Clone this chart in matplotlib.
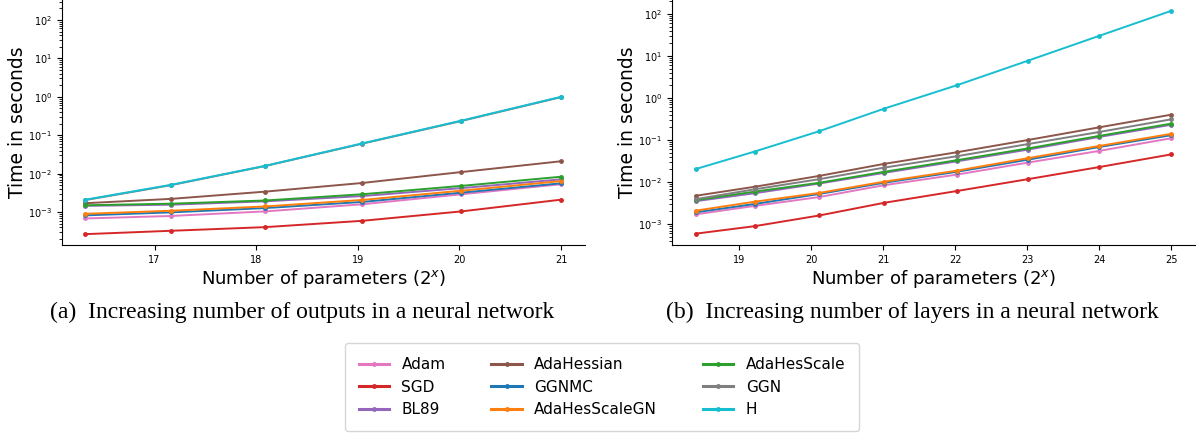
import matplotlib
matplotlib.use("Agg")
import matplotlib.pyplot as plt
import numpy as np

names = ["Adam", "SGD", "BL89", "AdaHessian", "GGNMC", "AdaHesScaleGN",
         "AdaHesScale", "GGN", "H"]
colors = ["tab:pink", "tab:red", "tab:purple", "tab:brown", "tab:blue",
          "tab:orange", "tab:green", "tab:gray", "tab:cyan"]

# (a) increasing number of outputs
x_out = [16.32, 17.16, 18.09, 19.04, 20.02, 21.0]
t_out = {
    "Adam":          [6.8e-4, 7.9e-4, 1.04e-3, 1.59e-3, 2.9e-3, 5.3e-3],
    "SGD":           [2.66e-4, 3.25e-4, 4.05e-4, 5.9e-4, 1.04e-3, 2.1e-3],
    "BL89":          [1.45e-3, 1.55e-3, 1.9e-3, 2.6e-3, 4.2e-3, 7.1e-3],
    "AdaHessian":    [1.7e-3, 2.2e-3, 3.4e-3, 5.7e-3, 1.1e-2, 2.1e-2],
    "GGNMC":         [8.2e-4, 9.8e-4, 1.27e-3, 1.83e-3, 3.2e-3, 5.6e-3],
    "AdaHesScaleGN": [9.0e-4, 1.08e-3, 1.4e-3, 2.06e-3, 3.6e-3, 6.4e-3],
    "AdaHesScale":   [1.5e-3, 1.65e-3, 2.0e-3, 2.9e-3, 4.8e-3, 8.3e-3],
    "GGN":           [2.05e-3, 5.0e-3, 1.58e-2, 6.0e-2, 0.235, 0.98],
    "H":             [2.1e-3, 5.1e-3, 1.6e-2, 6.1e-2, 0.24, 1.0],
}

# (b) increasing number of layers
x_lay = [18.39, 19.21, 20.11, 21.01, 22.02, 23.01, 24.0, 25.0]
t_lay = {
    "Adam":          [1.7e-3, 2.7e-3, 4.4e-3, 8.4e-3, 1.5e-2, 2.9e-2, 5.5e-2, 0.11],
    "SGD":           [5.9e-4, 8.9e-4, 1.6e-3, 3.2e-3, 6.1e-3, 1.17e-2, 2.27e-2, 4.54e-2],
    "BL89":          [3.5e-3, 5.4e-3, 9.2e-3, 1.65e-2, 3.1e-2, 5.9e-2, 0.118, 0.23],
    "AdaHessian":    [4.7e-3, 7.7e-3, 1.4e-2, 2.7e-2, 5.1e-2, 0.10, 0.20, 0.40],
    "GGNMC":         [1.9e-3, 3.0e-3, 5.2e-3, 9.6e-3, 1.75e-2, 3.4e-2, 6.8e-2, 0.13],
    "AdaHesScaleGN": [2.08e-3, 3.4e-3, 5.5e-3, 1.02e-2, 1.86e-2, 3.7e-2, 7.2e-2, 0.14],
    "AdaHesScale":   [3.7e-3, 5.9e-3, 9.6e-3, 1.75e-2, 3.3e-2, 6.3e-2, 0.125, 0.245],
    "GGN":           [3.9e-3, 6.7e-3, 1.17e-2, 2.2e-2, 4.1e-2, 8.0e-2, 0.155, 0.31],
    "H":             [2.03e-2, 5.3e-2, 0.162, 0.556, 2.0, 7.7, 30.0, 118.0],
}

fig = plt.figure(figsize=(12, 4.33), dpi=100)
ax1 = fig.add_axes([0.0514, 0.434, 0.436, 0.566])
ax2 = fig.add_axes([0.5598, 0.434, 0.436, 0.566])

for ax, x, data in [(ax1, x_out, t_out), (ax2, x_lay, t_lay)]:
    for name, c in zip(names, colors):
        ax.plot(x, data[name], '-o', color=c, lw=1.4, ms=2.5, label=name)
    ax.set_yscale('log')
    ax.spines['top'].set_visible(False)
    ax.spines['right'].set_visible(False)
    ax.tick_params(labelsize=7)
    ax.set_xlabel('Number of parameters ($2^x$)', fontsize=13, labelpad=2)
    ax.set_ylabel('Time in seconds', fontsize=13.5, labelpad=1)

ax1.set_ylim(10 ** -3.86, 10 ** 2.52)
ax2.set_ylim(10 ** -3.5, 10 ** 2.33)

fig.text(0.2517, 1 - 312 / 433, '(a)  Increasing number of outputs in a neural network',
         ha='center', va='center', family='Liberation Serif', fontsize=17)
fig.text(0.76, 1 - 312 / 433, '(b)  Increasing number of layers in a neural network',
         ha='center', va='center', family='Liberation Serif', fontsize=17)

h, l = ax1.get_legend_handles_labels()
leg = fig.legend(h, l, loc='center', bbox_to_anchor=(602 / 1200, 1 - 387 / 433),
                 ncol=3, fontsize=11, columnspacing=3.0, borderpad=0.9)
for ln in leg.get_lines():
    ln.set_linewidth(2.2)

fig.savefig('out.png', dpi=100)
